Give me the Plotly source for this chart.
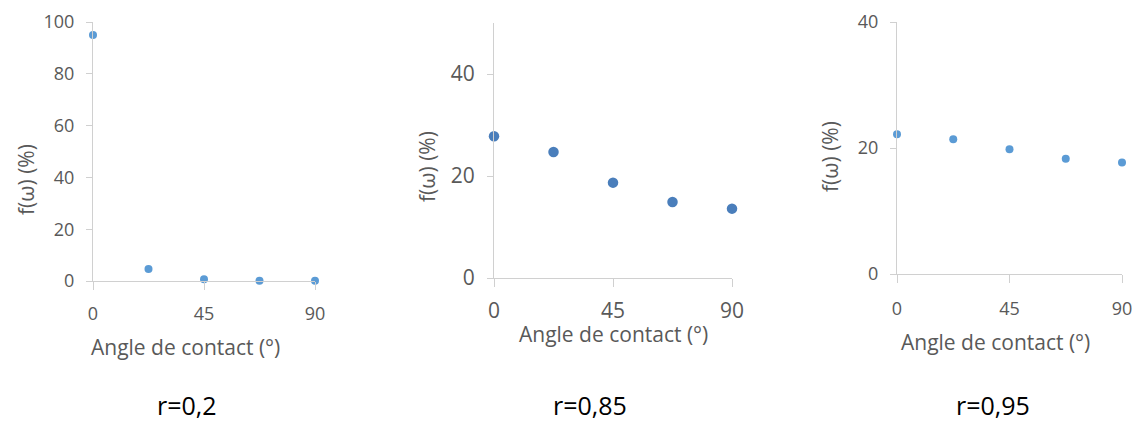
import plotly.graph_objects as go

# the page puts the plot 8px in from the top-left corner
OFF = 8
W, H = 1141 - OFF, 423 - OFF

# data
angles = [0, 22.5, 45, 67.5, 90]
f_r02 = [95, 4.6, 0.7, 0.1, 0.1]
f_r085 = [27.8, 24.7, 18.7, 14.9, 13.6]
f_r095 = [22.2, 21.4, 19.8, 18.3, 17.7]
captions = ["r=0,2", "r=0,85", "r=0,95"]
x_ticks = [0, 45, 90]

FONT = "Open Sans"
GREY = "#595959"
AXIS = "#d0d0d0"


def px(x):
    return (x - OFF) / W


def py(y):
    return 1 - (y - OFF) / H


# panel boxes in screen pixels: left, right, top, bottom (y of range max / min)
panels = [
    dict(y=f_r02, box=(93, 315, 22, 281), yr=[0, 100], yt=[0, 20, 40, 60, 80, 100],
         color="#5b9bd5", size=8, tick=18, xstand=8,
         ytitle_x=26, ytitle_y=180, xtitle=(185, 347)),
    dict(y=f_r085, box=(494, 732, 23, 278), yr=[0, 50], yt=[0, 20, 40],
         color="#4a7ebb", size=10.5, tick=21, xstand=6,
         ytitle_x=427, ytitle_y=167, xtitle=(613, 334)),
    dict(y=f_r095, box=(897, 1122, 22, 274), yr=[0, 40], yt=[0, 20, 40],
         color="#5b9bd5", size=8, tick=18, xstand=10,
         ytitle_x=830, ytitle_y=157, xtitle=(995, 342)),
]
caption_x = [187, 590, 993]


def note(x, y, text, size, color, angle=0):
    return dict(x=px(x), y=py(y), xref="paper", yref="paper", text=text,
                showarrow=False, xanchor="center", yanchor="middle", textangle=angle,
                font=dict(family=FONT, size=size, color=color))


fig = go.Figure()
annotations = []
for i, p in enumerate(panels, start=1):
    l, r, t, b = p["box"]
    xa = "x" if i == 1 else f"x{i}"
    ya = "y" if i == 1 else f"y{i}"
    fig.add_trace(go.Scatter(
        x=angles, y=p["y"], mode="markers", xaxis=xa, yaxis=ya,
        marker=dict(color=p["color"], size=p["size"]),
        cliponaxis=False, showlegend=False,
    ))
    common = dict(showgrid=False, zeroline=False, showline=True, linecolor=AXIS,
                  linewidth=1, ticks="outside", tickcolor=AXIS, automargin=False,
                  tickfont=dict(family=FONT, size=p["tick"], color=GREY), fixedrange=True)
    fig.update_layout({
        f"xaxis{'' if i == 1 else i}": dict(
            domain=[px(l), px(r)], range=[0, 90], tickvals=x_ticks, ticklen=8,
            anchor=ya, ticklabelstandoff=p["xstand"], **common),
        f"yaxis{'' if i == 1 else i}": dict(
            domain=[py(b), py(t)], range=p["yr"], tickvals=p["yt"], ticklen=6,
            anchor=xa, ticklabelstandoff=8, **common),
    })
    annotations.append(note(*p["xtitle"], "Angle de contact (°)", 21, GREY))
    annotations.append(note(p["ytitle_x"], p["ytitle_y"], "f(ω) (%)", 21, GREY, -90))
    annotations.append(note(caption_x[i - 1], 405, captions[i - 1], 25, "#000000"))

fig.update_layout(
    width=W, height=H, margin=dict(l=0, r=0, t=0, b=0),
    paper_bgcolor="white", plot_bgcolor="white",
    annotations=annotations,
)
fig.write_html("out.html")
